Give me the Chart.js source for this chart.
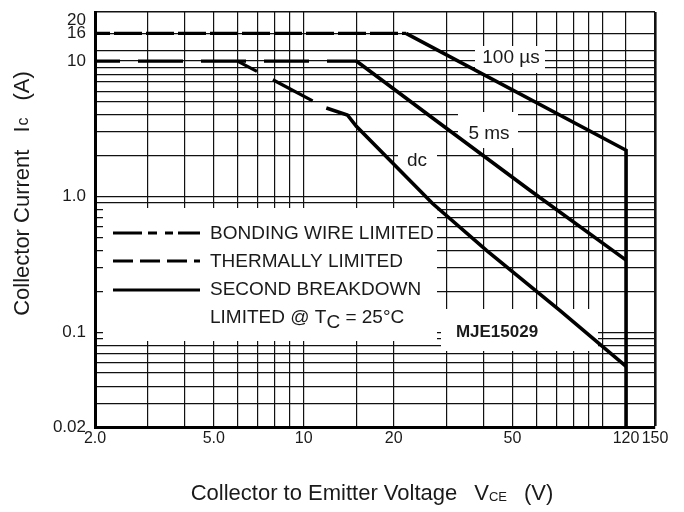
<!DOCTYPE html>
<html><head><meta charset="utf-8">
<script src="https://cdn.jsdelivr.net/npm/chart.js@4.4.1/dist/chart.umd.min.js"></script>
<style>html,body{margin:0;padding:0;background:#fff}#wrap{width:684px;height:512px;position:relative}</style>
</head><body><div id="wrap"><canvas id="c" width="684" height="512"></canvas></div>
<script>
// ---- data (V in volts, I in amperes) ----
const bondingWireV = [2, 22];
const bondingWireI = [16, 16];
const thermalV = [2, 15];
const thermalI = [10, 10];
const thermalDcV = [6, 11.9];
const thermalDcI = [10, 4.5];
const sb100usV = [22, 120, 120];
const sb100usI = [16, 2.2, 0.02];
const sb5msV = [15, 27, 57, 120];
const sb5msI = [10, 3.8, 1.12, 0.34];
const sbDcV = [11.9, 14, 15, 27, 41, 72, 120];
const sbDcI = [4.5, 4.0, 3.3, 0.89, 0.40, 0.145, 0.056];

const xGridValues = [2,3,4,5,6,7,8,9,10,15,20,30,40,50,60,70,80,90,100,120,150];
const xLabelValues = [2,5,10,20,50,120,150];
const xLabelTexts = ['2.0','5.0','10','20','50','120','150'];
const yGridValues = [0.02,0.03,0.04,0.05,0.06,0.07,0.08,0.09,0.1,0.2,0.3,0.4,0.5,0.6,0.7,0.8,0.9,1,2,3,4,5,6,7,8,9,10,12,16,20,23];
const yLabelValues = [0.02,0.1,1,10,16,20];
const yLabelTexts = ['0.02','0.1','1.0','10','16','20'];
const xMin = 2, xMax = 150, yMin = 0.02, yMax = 23;

const FONT = '"Liberation Sans", Arial, sans-serif';
const INK = '#1a1a1a';

function pts(vs, is){ return vs.map((v,i)=>({x:v, y:is[i]})); }
function ds(label, vs, is, dash, off, w){
  return {label, data: pts(vs,is), borderColor:'#000', borderWidth:w, borderDash:dash, borderDashOffset:off,
    pointRadius:0, tension:0, fill:false, borderCapStyle:'butt', borderJoinStyle:'miter'};
}

// white boxes behind legend / labels (pixel layout)
const maskBoxes = [[103,208,437,341],[441,309,598,351],[475,46,545,73],[458,112,518,148],[398,146,437,175]];

const annot = {
  id:'annot',
  beforeDatasetsDraw(chart){
    const ctx = chart.ctx; ctx.save();
    ctx.fillStyle = '#fff';
    maskBoxes.forEach(b=>ctx.fillRect(b[0],b[1],b[2]-b[0],b[3]-b[1]));
    ctx.restore();
  },
  afterDraw(chart){
    const ctx = chart.ctx; ctx.save();
    ctx.fillStyle = INK; ctx.strokeStyle = '#000';
    ctx.textBaseline = 'middle'; ctx.textAlign = 'left';
    // legend samples
    function sample(y, dash){ ctx.save(); ctx.lineWidth=3; ctx.setLineDash(dash); ctx.beginPath(); ctx.moveTo(113,y); ctx.lineTo(200,y); ctx.stroke(); ctx.restore(); }
    sample(233,[29,6,9,8,8,5,22,40]);
    sample(261,[20,7]);
    sample(290,[]);
    ctx.font = '19px ' + FONT;
    ctx.fillText('BONDING WIRE LIMITED', 210, 234);
    ctx.fillText('THERMALLY LIMITED', 210, 262);
    ctx.fillText('SECOND BREAKDOWN', 210, 290);
    let x = 210;
    const p1 = 'LIMITED @ T'; ctx.fillText(p1, x, 318); x += ctx.measureText(p1).width;
    ctx.fillText('C', x, 323); x += ctx.measureText('C').width;
    const p2 = ' = 25°C'; ctx.fillText(p2, x, 318);
    // curve labels
    ctx.textAlign = 'center';
    ctx.font = '19px ' + FONT;
    ctx.fillText('100 µs', 511, 58);
    ctx.fillText('5 ms', 489, 134);
    ctx.fillText('dc', 417, 161);
    ctx.font = 'bold 17px ' + FONT;
    ctx.fillText('MJE15029', 497, 332);
    // axis titles
    ctx.textAlign = 'left';
    const bigF = '22px ' + FONT, smallF = '13px ' + FONT, gap = 17;
    const xt = ['Collector to Emitter Voltage', 'V', 'CE', '(V)'];
    ctx.font = bigF;
    const a0 = ctx.measureText(xt[0]).width, a1 = ctx.measureText(xt[1]).width, a3 = ctx.measureText(xt[3]).width;
    ctx.font = smallF; const a2 = ctx.measureText(xt[2]).width;
    let sx = 372 - (a0+gap+a1+a2+gap+a3)/2;
    ctx.font = bigF; ctx.fillText(xt[0], sx, 494); sx += a0 + gap;
    ctx.fillText(xt[1], sx, 494); sx += a1;
    ctx.font = smallF; ctx.fillText(xt[2], sx, 497); sx += a2 + gap;
    ctx.font = bigF; ctx.fillText(xt[3], sx, 494);
    // y title
    const yt = ['Collector Current', 'I', 'c', '(A)'];
    const midF = '16px ' + FONT;
    ctx.font = bigF;
    const b0 = ctx.measureText(yt[0]).width, b1 = ctx.measureText(yt[1]).width, b3 = ctx.measureText(yt[3]).width;
    ctx.font = midF; const b2 = ctx.measureText(yt[2]).width;
    ctx.translate(23, 194); ctx.rotate(-Math.PI/2);
    sx = -(b0+gap+b1+b2+gap+b3)/2;
    ctx.font = bigF; ctx.fillText(yt[0], sx, 0); sx += b0 + gap;
    ctx.fillText(yt[1], sx, 0); sx += b1 + 1;
    ctx.font = midF; ctx.fillText(yt[2], sx, 1); sx += b2 + gap;
    ctx.font = bigF; ctx.fillText(yt[3], sx, 0);
    ctx.restore();
  }
};

new Chart(document.getElementById('c'), {
  type:'line',
  data:{datasets:[
    ds('Bonding wire limited', bondingWireV, bondingWireI, [28,4], 13, 3.2),
    ds('Thermally limited', thermalV, thermalI, [45,18], 20, 3.2),
    ds('Thermally limited (dc)', thermalDcV, thermalDcI, [45,18], 23, 3.2),
    ds('100 µs', sb100usV, sb100usI, [], 0, 3.6),
    ds('5 ms', sb5msV, sb5msI, [], 0, 3.6),
    ds('dc', sbDcV, sbDcI, [], 0, 3.6)
  ]},
  options:{
    responsive:false, animation:false, devicePixelRatio:1,
    layout:{autoPadding:false, padding:{left:0,right:29,top:12,bottom:0}},
    plugins:{legend:{display:false}, tooltip:{enabled:false}},
    scales:{
      x:{type:'logarithmic', min:xMin, max:xMax,
        afterFit(s){ s.height = 85; s.paddingLeft = 0; s.paddingRight = 0; },
        afterBuildTicks(s){ s.ticks = xGridValues.map(v=>({value:v})); },
        ticks:{autoSkip:false, maxRotation:0, minRotation:0, padding:2, color:INK, font:{family:FONT, size:16},
          callback:(v)=>{ const i = xLabelValues.indexOf(v); return i<0 ? '' : xLabelTexts[i]; }},
        grid:{drawTicks:false, color:'#111', lineWidth:c=> (c.tick && c.tick.value===xMax) ? 2.6 : 1.2},
        border:{color:'#000', width:3}
      },
      y:{type:'logarithmic', min:yMin, max:yMax,
        afterFit(s){ s.width = 95; s.paddingTop = 0; s.paddingBottom = 0; },
        afterBuildTicks(s){ s.ticks = yGridValues.map(v=>({value:v})); },
        ticks:{autoSkip:false, padding:9, color:INK, font:{family:FONT, size:17},
          callback:(v)=>{ const i = yLabelValues.indexOf(v); return i<0 ? '' : yLabelTexts[i]; }},
        grid:{drawTicks:false, color:c=> (c.tick && c.tick.value===20) ? 'rgba(0,0,0,0)' : '#111',
          lineWidth:c=> (c.tick && c.tick.value===yMax) ? 1.6 : 1.2},
        border:{color:'#000', width:3}
      }
    }
  },
  plugins:[annot]
});
</script></body></html>
